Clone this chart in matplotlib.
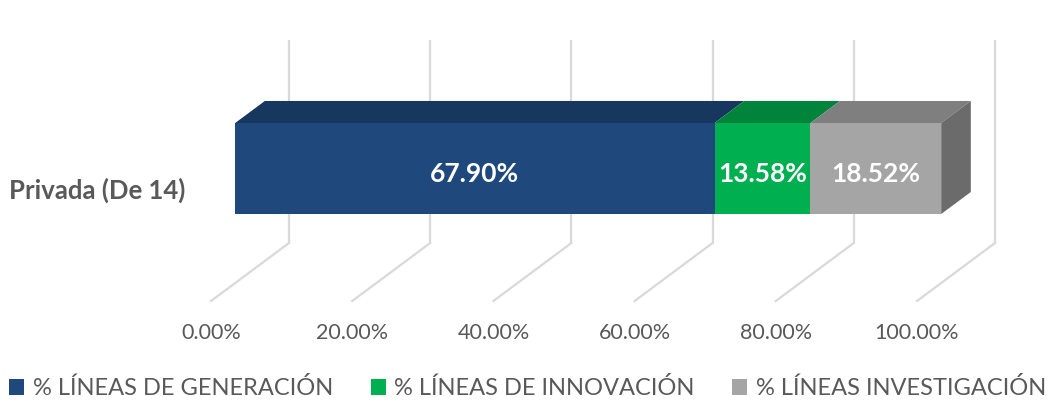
import matplotlib
matplotlib.use("Agg")
import matplotlib.pyplot as plt
from matplotlib.patches import Polygon, Patch

# ---- data ----
category = "Privada (De 14)"
series_names = ["% LÍNEAS DE GENERACIÓN", "% LÍNEAS DE INNOVACIÓN", "% LÍNEAS INVESTIGACIÓN"]
values = [67.90, 13.58, 18.52]
value_labels = ["67.90%", "13.58%", "18.52%"]
ticks = [0, 20, 40, 60, 80, 100]
tick_labels = ["0.00%", "20.00%", "40.00%", "60.00%", "80.00%", "100.00%"]

# ---- style ----
front_cols = ["#1F497D", "#00B050", "#A5A5A5"]
top_cols = ["#17375E", "#00843C", "#7F7F7F"]
side_col = "#6B6B6B"
grid_col = "#D9D9D9"
txt_col = "#595959"
FONT = "Lato"

W, H = 1055, 403
fig = plt.figure(figsize=(W / 100, H / 100), dpi=100)
ax = fig.add_axes([0, 0, 1, 1])
PX = 7.06           # pixels per percent unit
X0 = 211            # pixel of 0% on front floor
ax.set_xlim(-X0 / PX, (W - X0) / PX)
ax.set_ylim(H, 0)
ax.axis("off")

DX = 78 / PX        # depth shift in x (data units)
DY = -58            # depth shift in y (pixels)

def P(v, y, d):
    return (v + d * DX, y + d * DY)

# back wall gridlines and floor lines
floor_y = 301
top_y = 40
for t, lab in zip(ticks, tick_labels):
    bx, by = P(t, floor_y, 1)
    ax.plot([bx, bx], [top_y, by], color=grid_col, lw=1.6, solid_capstyle="butt", zorder=1)
    fx, fy = P(t, floor_y, 0)
    ax.plot([bx, fx], [by, fy], color=grid_col, lw=1.6, zorder=1)
    ax.text(fx, 333, lab, ha="center", va="center",
            fontsize=15.5, color=txt_col, family=FONT)

# 3D stacked bar
d0, d1 = 0.31, 0.69
ytop, ybot = 141, 232
left = 0
for i, v in enumerate(values):
    right = left + v
    front = [P(left, ytop, d0), P(right, ytop, d0), P(right, ybot, d0), P(left, ybot, d0)]
    ax.add_patch(Polygon(front, closed=True, facecolor=front_cols[i], edgecolor="none", zorder=3))
    top = [P(left, ytop, d0), P(right, ytop, d0), P(right, ytop, d1), P(left, ytop, d1)]
    ax.add_patch(Polygon(top, closed=True, facecolor=top_cols[i], edgecolor="none", zorder=3))
    cx, cy = P((left + right) / 2, (ytop + ybot) / 2 + 5, d0)
    ax.text(cx, cy, value_labels[i], ha="center", va="center", fontsize=19,
            fontweight="bold", color="white", family=FONT, zorder=5)
    left = right
side = [P(left, ytop, d0), P(left, ytop, d1), P(left, ybot, d1), P(left, ybot, d0)]
ax.add_patch(Polygon(side, closed=True, facecolor=side_col, edgecolor="none", zorder=3))

# category label
ax.text(-X0 / PX + 185 / PX, 190, category, ha="right", va="center", fontsize=18.5,
        fontweight="bold", color=txt_col, family=FONT)

# legend
handles = [Patch(facecolor=c, edgecolor="none") for c in front_cols]
leg = fig.legend(handles, series_names, loc="center", bbox_to_anchor=(0.5, 1 - 388 / H),
                 ncol=3, frameon=False, fontsize=17, handlelength=0.64, handleheight=0.64,
                 handletextpad=0.35, columnspacing=1.6, borderaxespad=0)
for t in leg.get_texts():
    t.set_color(txt_col)
    t.set_family(FONT)

fig.savefig("out.png", dpi=100)
